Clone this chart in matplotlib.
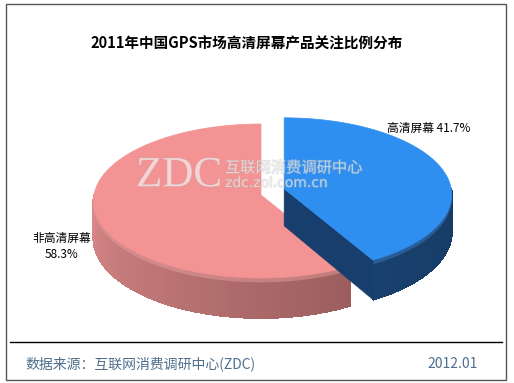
import numpy as np
import matplotlib
matplotlib.use('Agg')
import matplotlib.pyplot as plt
from matplotlib.patches import Polygon, Rectangle
import matplotlib.patheffects as pe

plt.rcParams['font.family'] = ['Noto Sans CJK SC', 'DejaVu Sans']

# data
categories = ['高清屏幕', '非高清屏幕']
values = [41.7, 58.3]
explode = [24, 0]
top_colors = ['#2f8ff0', '#f49393']
title = '2011年中国GPS市场高清屏幕产品关注比例分布'
source = '数据来源：互联网消费调研中心(ZDC)'
date = '2012.01'

# pie geometry (pixels), simple perspective: front is a bit bigger
cx, cy = 261, 195
rx, ry = 167, 77
persp = 0.078
depth = 37


def pt(c, th, dz=0):
    s = 1 + persp * (-np.cos(th))
    return (c[0] + rx * np.sin(th) * s, c[1] - ry * np.cos(th) * s + dz * s)


def mix(c1, c2, t):
    a = np.array(matplotlib.colors.to_rgb(c1))
    b = np.array(matplotlib.colors.to_rgb(c2))
    return tuple(a + (b - a) * t)


fig = plt.figure(figsize=(5.14, 3.83), dpi=100)
ax = fig.add_axes([0, 0, 1, 1])
ax.set_xlim(0, 514)
ax.set_ylim(383, 0)
ax.axis('off')

fracs = np.array(values) / sum(values)
starts = np.concatenate([[0], np.cumsum(fracs)[:-1]]) * 2 * np.pi
ends = np.cumsum(fracs) * 2 * np.pi

# wall colours: (light end, dark end), bevel highlight
wall_cols = [('#1f4f84', '#163a64'), ('#d98888', '#7c4848')]
bevel_cols = ['#3f82cc', '#eea2a2']
cut_cols = ['#173e6c', '#8a5050']

# draw the non-exploded (pink) slice first, then the blue one on top
for i in [1, 0]:
    a0, a1 = starts[i], ends[i]
    mid = (a0 + a1) / 2
    c = (cx + explode[i] * np.sin(mid), cy - explode[i] * np.cos(mid))
    # front outer wall, with a soft highlight strip near its top edge
    w0, w1 = max(a0, np.pi / 2), min(a1, 3 * np.pi / 2)
    if w1 > w0:
        th = np.linspace(w0, w1, 90)
        # outline of the whole wall first so the strip seams don't show
        outline = [pt(c, t) for t in th] + [pt(c, t, depth) for t in th[::-1]]
        ax.add_patch(Polygon(outline, closed=True, fc=wall_cols[i][1], ec='none'))
        for k in range(len(th) - 1):
            t = (3 * np.pi / 2 - th[k]) / np.pi
            col = mix(wall_cols[i][0], wall_cols[i][1], np.clip(t, 0, 1))
            quad = [pt(c, th[k]), pt(c, th[k + 1]), pt(c, th[k + 1], depth), pt(c, th[k], depth)]
            ax.add_patch(Polygon(quad, closed=True, fc=col, ec=col, lw=0.8, antialiased=False))
        band = [pt(c, t) for t in th] + [pt(c, t, 4) for t in th[::-1]]
        ax.add_patch(Polygon(band, closed=True, fc=bevel_cols[i], ec='none', alpha=0.45))
    # cut face at the end angle (visible when facing the viewer)
    if np.pi / 2 < a1 < np.pi * 3 / 2 and i == 0:
        face = [c, pt(c, a1), pt(c, a1, depth), (c[0], c[1] + depth)]
        ax.add_patch(Polygon(face, closed=True, fc=cut_cols[i], ec=cut_cols[i], lw=0.5))
    # top face
    th = np.linspace(a0, a1, 200)
    top = [c] + [pt(c, t) for t in th]
    ax.add_patch(Polygon(top, closed=True, fc=top_colors[i], ec=top_colors[i], lw=0.5))

# watermark
wm = dict(color='white', alpha=0.4,
          path_effects=[pe.withStroke(linewidth=1, foreground='#b0b0b0', alpha=0.35)])
ax.text(179, 176, 'ZDC', family='Liberation Serif', fontsize=31, ha='center', va='center', **wm)
ax.text(225, 168, '互联网消费调研中心', fontsize=11, ha='left', va='center', **wm)
ax.text(225, 183, 'zdc.zol.com.cn', family='DejaVu Sans', fontsize=10, ha='left', va='center', **wm)

# labels
ax.text(429, 128, f'{categories[0]} {values[0]}%', fontsize=8.5, ha='center', va='center')
ax.text(62, 246, f'{categories[1]}\n{values[1]}%', fontsize=8.5, ha='center', va='center',
        linespacing=1.3)

# title, frame, footer
ax.text(247, 43, title, fontsize=10.5, fontweight='bold', ha='center', va='center')
ax.add_patch(Rectangle((6, 4), 500, 376, fill=False, ec='#555555', lw=1))
ax.plot([10, 502], [342, 342], color='black', lw=1)
ax.text(25, 364, source, fontsize=10, color='#4d6e8c', ha='left', va='center')
ax.text(478, 364, date, fontsize=10, color='#4d6e8c', ha='right', va='center')

fig.savefig('out.png', dpi=100)
